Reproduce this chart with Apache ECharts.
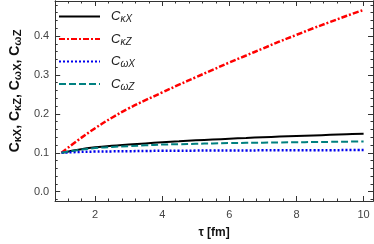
<!DOCTYPE html>
<html><head><meta charset="utf-8">
<script src="https://cdn.jsdelivr.net/npm/echarts@6/dist/echarts.min.js"></script>
<style>html,body{margin:0;padding:0;background:#fff}#c{width:374px;height:244px}</style>
</head><body><div id="c"></div>
<script>
var tau = [1, 1.5, 2, 2.5, 3, 3.5, 4, 4.5, 5, 5.5, 6, 6.5, 7, 7.5, 8, 8.5, 9, 9.5, 10];
var cKX = [0.100, 0.108, 0.114, 0.118, 0.121, 0.124, 0.127, 0.1295, 0.132, 0.134, 0.136, 0.138, 0.140, 0.1415, 0.143, 0.1445, 0.146, 0.1475, 0.149];
var cKZ = [0.100, 0.133, 0.163, 0.190, 0.214, 0.235, 0.255, 0.275, 0.294, 0.313, 0.332, 0.350, 0.368, 0.386, 0.403, 0.420, 0.436, 0.452, 0.467];
var cWX = [0.100, 0.102, 0.103, 0.1035, 0.104, 0.1045, 0.105, 0.105, 0.1055, 0.1058, 0.106, 0.106, 0.1062, 0.1064, 0.1065, 0.1066, 0.1067, 0.1068, 0.107];
var cWZ = [0.100, 0.107, 0.112, 0.115, 0.117, 0.119, 0.121, 0.122, 0.123, 0.124, 0.125, 0.1255, 0.126, 0.1265, 0.127, 0.1275, 0.128, 0.1285, 0.129];
var xTicks = [2, 4, 6, 8, 10];
var yTicks = [0, 0.1, 0.2, 0.3, 0.4];
var names = ['κX', 'κZ', 'ωX', 'ωZ'];

var xMin = 0.81, xMax = 10.28, yMin = -0.024, yMax = 0.49;
var xMinor = [], yMinor = [];
for (var i = 1; i <= 25; i++) { var v = +(i * 0.4).toFixed(2); if (v > xMin && v < xMax) xMinor.push(v); }
for (var j = -1; j <= 24; j++) { var w = +(j * 0.02).toFixed(2); if (w > yMin && w < yMax) yMinor.push(w); }

function pair(d) { return tau.map(function (t, k) { return [t, d[k]]; }); }
var frame = '#333';
var lab = {color: '#444', fontSize: 11, fontFamily: 'Liberation Sans'};
function xa(opts) {
  return Object.assign({type: 'value', min: xMin, max: xMax, gridIndex: 0,
    axisLine: {show: true, onZero: false, lineStyle: {color: frame, width: 1}},
    splitLine: {show: false}}, opts);
}
function ya(opts) {
  return Object.assign({type: 'value', min: yMin, max: yMax, gridIndex: 0,
    axisLine: {show: true, onZero: false, lineStyle: {color: frame, width: 1}},
    splitLine: {show: false}}, opts);
}
var rich = {
  c: {fontSize: 13, fontStyle: 'italic', fontFamily: 'Liberation Sans', color: '#222'},
  s: {fontSize: 10, fontStyle: 'italic', fontFamily: 'Liberation Sans', color: '#222', padding: [6, 0, 0, 0]},
  bc: {fontSize: 14, fontWeight: 'bold', fontFamily: 'Liberation Sans', color: '#111'},
  bs: {fontSize: 11, fontWeight: 'bold', fontFamily: 'Liberation Sans', color: '#111', padding: [5, 0, 0, 0]}
};
var ytitle = names.map(function (n) { return '{bc|C}{bs|' + n + '}'; }).join('{bc|, }');

var chart = echarts.init(document.getElementById('c'), null, {renderer: 'canvas'});
chart.setOption({
  animation: false,
  grid: {left: 40, right: 1, top: 1, bottom: 39},
  legend: {
    orient: 'vertical', left: 53, top: 5, itemWidth: 41, itemHeight: 14, itemGap: 8,
    data: names,
    itemStyle: {opacity: 0},
    formatter: function (n) { return '{c|C}{s|' + n + '}'; },
    textStyle: {rich: rich, padding: [0, 0, 0, 6]}
  },
  xAxis: [
    xa({position: 'bottom', axisTick: {show: true, inside: true, length: 5, customValues: xTicks, lineStyle: {color: frame}},
      axisLabel: {show: true, customValues: xTicks, margin: 8, color: lab.color, fontSize: lab.fontSize, fontFamily: lab.fontFamily},
      name: 'τ [fm]', nameLocation: 'middle', nameGap: 26,
      nameTextStyle: {fontWeight: 'bold', fontSize: 12, fontFamily: 'Liberation Sans', color: '#111'}}),
    xa({position: 'bottom', axisTick: {show: true, inside: true, length: 2.5, customValues: xMinor, lineStyle: {color: frame}}, axisLabel: {show: false}}),
    xa({position: 'top', axisTick: {show: true, inside: true, length: 5, customValues: xTicks, lineStyle: {color: frame}}, axisLabel: {show: false}}),
    xa({position: 'top', axisTick: {show: true, inside: true, length: 2.5, customValues: xMinor, lineStyle: {color: frame}}, axisLabel: {show: false}})
  ],
  yAxis: [
    ya({position: 'left', axisTick: {show: true, inside: true, length: 5, customValues: yTicks, lineStyle: {color: frame}},
      axisLabel: {show: true, customValues: yTicks, margin: 6, color: lab.color, fontSize: lab.fontSize, fontFamily: lab.fontFamily,
        formatter: function (v) { return v.toFixed(1); }},
      name: ytitle, nameLocation: 'middle', nameGap: 27, nameRotate: 90,
      nameTextStyle: {rich: rich, padding: [0, 0, 0, 20]}}),
    ya({position: 'left', axisTick: {show: true, inside: true, length: 2.5, customValues: yMinor, lineStyle: {color: frame}}, axisLabel: {show: false}}),
    ya({position: 'right', axisTick: {show: true, inside: true, length: 5, customValues: yTicks, lineStyle: {color: frame}}, axisLabel: {show: false}}),
    ya({position: 'right', axisTick: {show: true, inside: true, length: 2.5, customValues: yMinor, lineStyle: {color: frame}}, axisLabel: {show: false}})
  ],
  series: [
    {name: names[0], type: 'line', smooth: 0.4, symbol: 'none', data: pair(cKX), color: '#000', lineStyle: {color: '#000', width: 2}},
    {name: names[1], type: 'line', smooth: 0.4, symbol: 'none', data: pair(cKZ), color: '#ff0000', lineStyle: {color: '#ff0000', width: 2.5, type: [6, 2, 2, 2]}},
    {name: names[2], type: 'line', smooth: 0.4, symbol: 'none', data: pair(cWX), color: '#0000ee', lineStyle: {color: '#0000ee', width: 2.5, type: [2, 2]}},
    {name: names[3], type: 'line', smooth: 0.4, symbol: 'none', data: pair(cWZ), color: '#008080', lineStyle: {color: '#008080', width: 2, type: [7, 3]}}
  ]
});
</script></body></html>
